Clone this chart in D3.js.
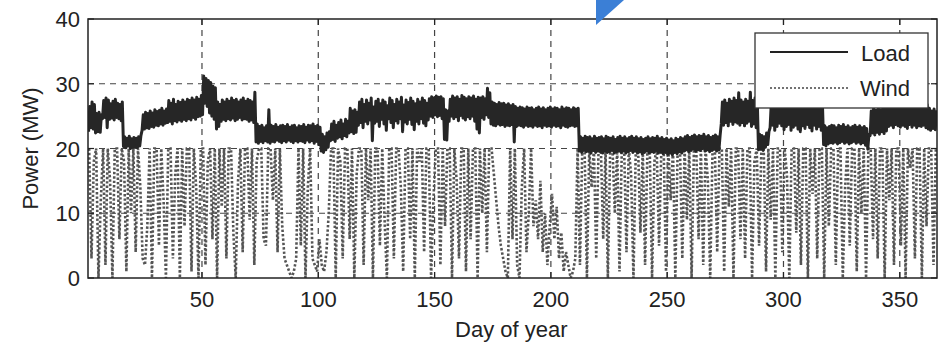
<!DOCTYPE html>
<html>
<head>
<meta charset="utf-8">
<script src="https://cdn.jsdelivr.net/npm/d3@7"></script>
<style>
  html, body { margin: 0; padding: 0; background: #fff; }
  svg { display: block; font-family: "Liberation Sans", Arial, sans-serif; }
</style>
</head>
<body>
<div id="chart"></div>
<script>
// Axis ticks
const xTicks = [50, 100, 150, 200, 250, 300, 350];
const yTicks = [0, 10, 20, 30, 40];

// Load: daily trough and peak (MW), day 1..365
const loadPeak = [
  26.5,27.2,26.8,25.4,25.6,25.2,27.4,27.8,27.5,26.9,
  27.3,27.6,27.0,26.8,27.2,21.8,21.6,21.9,21.5,21.7,
  21.6,21.8,22.0,25.2,25.6,25.4,25.8,25.5,26.0,25.7,
  25.9,26.2,25.8,26.1,27.4,27.0,27.6,26.8,27.3,27.1,
  27.5,27.2,27.6,27.4,27.8,27.5,27.9,27.6,28.2,31.2,
  30.8,30.5,30.2,29.6,29.4,27.2,26.8,27.5,27.2,27.6,
  27.3,27.8,27.4,27.6,27.2,27.5,27.8,27.3,27.6,27.4,
  27.2,28.7,23.8,23.4,23.6,23.2,23.5,26.0,23.6,23.4,
  23.7,23.3,23.5,23.6,23.4,23.7,23.3,23.5,23.6,23.2,
  23.5,23.4,23.7,23.3,23.6,23.5,23.8,23.4,23.6,23.3,
  22.2,21.8,22.4,22.6,23.8,24.2,23.6,24.0,24.4,23.8,
  24.5,24.2,26.2,25.8,26.0,25.6,27.2,27.6,26.8,27.5,
  27.0,27.8,26.4,27.3,27.6,26.9,27.5,27.2,26.6,27.8,
  27.4,26.8,27.6,27.2,27.9,26.7,27.5,27.1,27.8,27.3,
  26.9,27.6,27.2,27.8,27.4,27.0,27.7,28.0,27.8,28.1,
  27.9,28.0,27.7,26.0,25.8,27.6,28.1,27.8,28.0,27.6,
  28.2,27.9,27.7,28.0,27.8,28.1,27.6,27.9,27.8,28.0,
  27.7,29.3,28.6,27.2,27.0,26.8,27.1,26.9,27.0,26.7,
  26.9,26.6,26.8,26.5,26.2,26.4,26.3,26.1,26.4,26.2,
  26.3,26.0,26.2,26.4,26.1,26.3,26.0,26.2,26.4,26.1,
  26.3,26.2,26.0,26.4,26.1,26.3,26.2,26.0,26.3,26.1,
  26.2,21.8,21.6,21.9,21.7,21.8,21.5,21.9,21.6,21.7,
  21.8,21.5,21.9,21.7,21.6,21.8,21.4,21.7,21.9,21.6,
  21.8,21.5,21.7,21.9,21.6,21.8,21.5,21.7,21.4,21.6,
  21.8,21.5,21.7,21.6,21.9,21.5,21.7,21.4,21.6,21.3,
  21.5,21.2,21.6,21.4,21.7,21.5,21.8,22.0,21.7,21.9,
  22.1,21.8,22.0,21.9,22.2,21.8,22.0,21.7,21.9,22.1,
  21.8,22.0,27.2,27.5,27.0,27.6,27.3,27.8,27.4,28.6,
  27.5,27.2,27.6,27.3,28.7,27.4,27.8,27.2,22.2,22.0,
  21.8,22.4,22.6,27.0,27.4,26.8,27.2,28.0,27.5,26.9,
  27.3,27.6,26.8,27.2,27.5,27.0,26.7,27.4,27.1,27.6,
  27.2,26.8,27.5,27.0,27.3,26.9,23.5,23.2,23.4,23.6,
  23.5,23.2,23.6,23.4,23.7,23.3,23.5,23.2,23.4,23.6,
  23.3,23.5,23.2,23.4,23.1,22.2,25.8,26.2,25.9,26.3,
  26.0,26.4,26.1,26.5,27.2,27.5,26.9,27.3,27.6,27.0,
  27.4,27.2,26.8,27.5,27.1,27.4,26.9,27.3,27.0,27.2,
  26.8,26.2,25.8,26.1,25.9
];
const loadTrough = [
  22.6,23.2,23.0,22.4,22.6,22.5,24.6,24.8,23.2,24.5,
  24.7,24.4,24.8,24.6,24.3,20.3,20.1,20.4,20.0,20.2,
  20.3,20.1,20.4,22.8,23.0,23.2,23.1,23.4,23.3,23.6,
  23.5,23.8,23.6,23.9,24.0,24.2,23.8,24.3,24.1,24.4,
  24.2,24.5,24.3,24.6,24.4,24.8,24.5,24.9,25.0,25.2,
  27.0,26.5,25.5,25.0,24.5,23.0,23.4,24.2,24.5,24.3,
  24.6,24.4,24.7,24.3,24.5,24.8,24.4,24.6,24.5,24.2,
  24.4,24.0,21.0,20.8,21.1,20.9,21.2,21.0,20.8,21.1,
  21.0,21.3,21.1,20.9,21.2,21.0,21.3,21.1,20.9,21.2,
  21.0,21.2,21.1,20.9,21.3,21.0,21.2,20.8,21.1,20.6,
  19.6,19.4,19.8,20.2,21.2,21.4,21.1,21.6,21.8,21.5,
  22.0,21.8,22.4,22.6,22.3,22.5,23.6,24.0,23.2,24.2,
  23.8,24.4,21.2,23.9,24.2,23.4,24.5,23.8,22.8,24.6,
  24.0,23.2,24.3,23.9,24.6,22.6,24.1,23.8,24.5,23.7,
  22.9,24.2,23.8,24.6,23.9,23.5,24.4,25.0,24.8,25.2,
  24.9,25.1,24.6,21.4,21.3,24.2,25.0,24.6,24.9,24.3,
  25.1,24.7,24.4,24.9,24.6,25.0,24.2,23.0,22.4,24.8,
  24.5,25.2,24.8,23.8,23.6,23.5,23.8,23.6,23.7,23.4,
  23.6,23.5,23.7,21.0,23.4,23.6,23.5,23.3,23.6,23.4,
  23.5,23.3,23.6,23.4,23.5,23.2,23.6,23.4,23.5,23.3,
  23.6,23.4,23.5,23.2,23.6,23.4,23.3,23.5,23.6,23.4,
  23.5,19.6,19.4,19.7,19.5,19.6,19.3,19.7,19.4,19.6,
  19.5,19.3,19.6,19.4,19.5,19.7,19.3,19.5,19.6,19.4,
  19.6,19.3,19.5,19.7,19.4,19.6,19.3,19.5,19.2,19.4,
  19.6,19.3,19.5,19.4,19.7,19.3,19.5,19.2,19.4,19.1,
  19.3,19.0,19.4,19.2,19.5,19.3,19.6,19.8,19.5,19.7,
  19.9,19.6,19.8,19.7,20.0,19.6,19.8,19.5,19.7,19.9,
  19.6,19.8,23.8,23.6,24.0,23.5,24.2,23.7,24.1,23.9,
  23.6,24.0,23.5,23.9,24.2,23.4,23.8,23.2,19.8,19.9,
  19.7,20.2,20.6,23.2,23.6,22.8,23.4,23.9,23.5,22.9,
  23.4,23.7,22.8,23.3,23.6,23.0,22.6,23.5,23.1,23.7,
  23.2,22.7,23.6,23.0,23.4,22.8,20.6,20.4,20.7,20.9,
  20.8,21.0,20.7,20.9,21.1,20.8,21.0,20.7,20.9,21.1,
  20.8,21.0,20.7,20.9,20.5,19.9,22.0,22.4,22.1,22.5,
  22.2,22.6,22.3,22.7,23.4,23.6,23.2,23.7,23.5,23.3,
  23.6,23.4,23.1,23.7,23.3,23.6,23.2,23.5,23.4,23.6,
  23.2,23.0,22.8,23.1,22.9
];

// Wind: daily values (MW), capped at 20, day 1..365
const wind = [
  20,3,18,20,0,12,20,2,20,15,
  0,20,20,6,20,18,1,20,10,20,
  4,20,14,3,2,8,20,0,20,20,
  5,20,12,0,20,20,3,16,20,0,
  20,8,20,20,1,20,14,0,20,20,
  2,18,20,6,20,0,20,11,20,3,
  20,20,7,0,15,20,4,20,20,9,
  20,2,18,20,20,6,5,20,20,12,
  20,4,20,8,3,2,1,0,1,3,
  20,5,20,0,14,20,3,2,1,6,
  2,1,4,10,20,20,0,20,18,3,
  20,20,6,20,0,16,20,20,2,20,
  12,20,0,20,20,5,20,9,0,20,
  20,3,20,20,14,1,20,20,6,20,
  0,20,18,20,4,20,20,0,12,20,
  20,2,20,8,20,20,0,20,15,3,
  20,20,1,20,6,20,20,0,20,10,
  20,4,20,20,16,12,8,5,3,1,
  0,20,6,20,2,0,14,20,4,10,
  20,8,12,6,15,4,10,2,8,13,
  6,11,3,7,1,4,2,0,1,3,
  20,2,20,20,0,20,14,20,3,20,
  20,6,20,0,20,20,10,20,1,20,
  20,4,20,16,0,20,20,7,20,2,
  20,20,0,18,20,5,20,20,1,20,
  12,20,0,20,20,3,20,9,20,0,
  20,20,6,20,2,20,15,0,20,20,
  4,20,20,1,20,11,20,0,20,20,
  6,20,3,20,20,0,18,20,5,20,
  20,1,20,9,20,0,20,20,4,20,
  16,0,20,20,7,20,2,20,20,0,
  20,13,20,3,20,20,0,20,8,20,
  20,2,20,20,0,14,20,5,20,20,
  1,20,10,20,0,20,20,6,20,3,
  20,20,0,20,12,20,2,20,20,5,
  20,0,20,17,20,3,20,20,0,20,
  8,20,20,2,20
];

const width = 940, height = 344;
const margin = { top: 19, right: 3, bottom: 66, left: 88 };
const innerW = width - margin.left - margin.right;
const innerH = height - margin.top - margin.bottom;

const svg = d3.select('#chart').append('svg')
  .attr('width', width)
  .attr('height', height);

const x = d3.scaleLinear().domain([1, 366]).range([margin.left, margin.left + innerW]);
const y = d3.scaleLinear().domain([0, 40]).range([margin.top + innerH, margin.top]);

// Build series: trough early in the day, peak in the evening
const loadSeries = [];
loadTrough.forEach((v, i) => {
  loadSeries.push([i + 1.25, v]);
  loadSeries.push([i + 1.75, loadPeak[i]]);
});
const windSeries = wind.map((v, i) => [i + 1.5, v]);

// Clip to plot area
svg.append('clipPath').attr('id', 'plot-clip')
  .append('rect')
  .attr('x', margin.left).attr('y', margin.top)
  .attr('width', innerW).attr('height', innerH);

// Grid
const grid = svg.append('g')
  .attr('stroke', '#444')
  .attr('stroke-width', 1.2)
  .attr('stroke-dasharray', '6,5');

grid.selectAll('.gx')
  .data(xTicks)
  .enter()
  .append('line')
  .attr('x1', d => x(d)).attr('x2', d => x(d))
  .attr('y1', margin.top).attr('y2', margin.top + innerH);

grid.selectAll('.gy')
  .data(yTicks.filter(d => d > 0 && d < 40))
  .enter()
  .append('line')
  .attr('x1', margin.left).attr('x2', margin.left + innerW)
  .attr('y1', d => y(d)).attr('y2', d => y(d));

const plot = svg.append('g').attr('clip-path', 'url(#plot-clip)');

// Wind (dotted)
plot.append('path')
  .datum(windSeries)
  .attr('fill', 'none')
  .attr('stroke', '#555')
  .attr('stroke-width', 2.6)
  .attr('stroke-dasharray', '2.4,2')
  .attr('d', d3.line().x(d => x(d[0])).y(d => y(d[1])));

// Load (solid)
plot.append('path')
  .datum(loadSeries)
  .attr('fill', 'none')
  .attr('stroke', '#262626')
  .attr('stroke-width', 3)
  .attr('stroke-linejoin', 'round')
  .attr('d', d3.line().x(d => x(d[0])).y(d => y(d[1])));

// Frame
svg.append('rect')
  .attr('x', margin.left).attr('y', margin.top)
  .attr('width', innerW).attr('height', innerH)
  .attr('fill', 'none')
  .attr('stroke', '#222')
  .attr('stroke-width', 1.5);

// Inward ticks on all sides
const tickLen = 6;
const ticks = svg.append('g').attr('stroke', '#222').attr('stroke-width', 1.2);
xTicks.forEach(t => {
  ticks.append('line').attr('x1', x(t)).attr('x2', x(t))
    .attr('y1', margin.top + innerH).attr('y2', margin.top + innerH - tickLen);
  ticks.append('line').attr('x1', x(t)).attr('x2', x(t))
    .attr('y1', margin.top).attr('y2', margin.top + tickLen);
});
yTicks.forEach(t => {
  ticks.append('line').attr('x1', margin.left).attr('x2', margin.left + tickLen)
    .attr('y1', y(t)).attr('y2', y(t));
  ticks.append('line').attr('x1', margin.left + innerW).attr('x2', margin.left + innerW - tickLen)
    .attr('y1', y(t)).attr('y2', y(t));
});

// Tick labels
svg.append('g').selectAll('text')
  .data(xTicks)
  .enter()
  .append('text')
  .attr('x', d => x(d))
  .attr('y', 307)
  .attr('text-anchor', 'middle')
  .attr('font-size', '22px')
  .attr('fill', '#222')
  .text(d => d);

svg.append('g').selectAll('text')
  .data(yTicks)
  .enter()
  .append('text')
  .attr('x', 80)
  .attr('y', d => y(d) + 8)
  .attr('text-anchor', 'end')
  .attr('font-size', '22px')
  .attr('fill', '#222')
  .text(d => d);

// Axis titles
svg.append('text')
  .attr('x', x(183))
  .attr('y', 337)
  .attr('text-anchor', 'middle')
  .attr('font-size', '22px')
  .attr('fill', '#222')
  .text('Day of year');

svg.append('text')
  .attr('transform', `translate(38,${y(20)}) rotate(-90)`)
  .attr('text-anchor', 'middle')
  .attr('font-size', '22px')
  .attr('fill', '#222')
  .text('Power (MW)');

// Legend
const legend = svg.append('g');
legend.append('rect')
  .attr('x', 755).attr('y', 33)
  .attr('width', 173).attr('height', 75)
  .attr('fill', '#fff')
  .attr('stroke', '#333')
  .attr('stroke-width', 1.3);
legend.append('line')
  .attr('x1', 770).attr('x2', 848).attr('y1', 52).attr('y2', 52)
  .attr('stroke', '#222').attr('stroke-width', 2);
legend.append('line')
  .attr('x1', 770).attr('x2', 848).attr('y1', 88).attr('y2', 88)
  .attr('stroke', '#444').attr('stroke-width', 1.5)
  .attr('stroke-dasharray', '2,2');
legend.append('text')
  .attr('x', 910).attr('y', 61)
  .attr('text-anchor', 'end')
  .attr('font-size', '22px').attr('fill', '#222')
  .text('Load');
legend.append('text')
  .attr('x', 910).attr('y', 96)
  .attr('text-anchor', 'end')
  .attr('font-size', '22px').attr('fill', '#222')
  .text('Wind');

// Blue marker at top edge
svg.append('path')
  .attr('d', 'M596,0 L624,0 L596,25 Z')
  .attr('fill', '#3b7fd6');
</script>
</body>
</html>
